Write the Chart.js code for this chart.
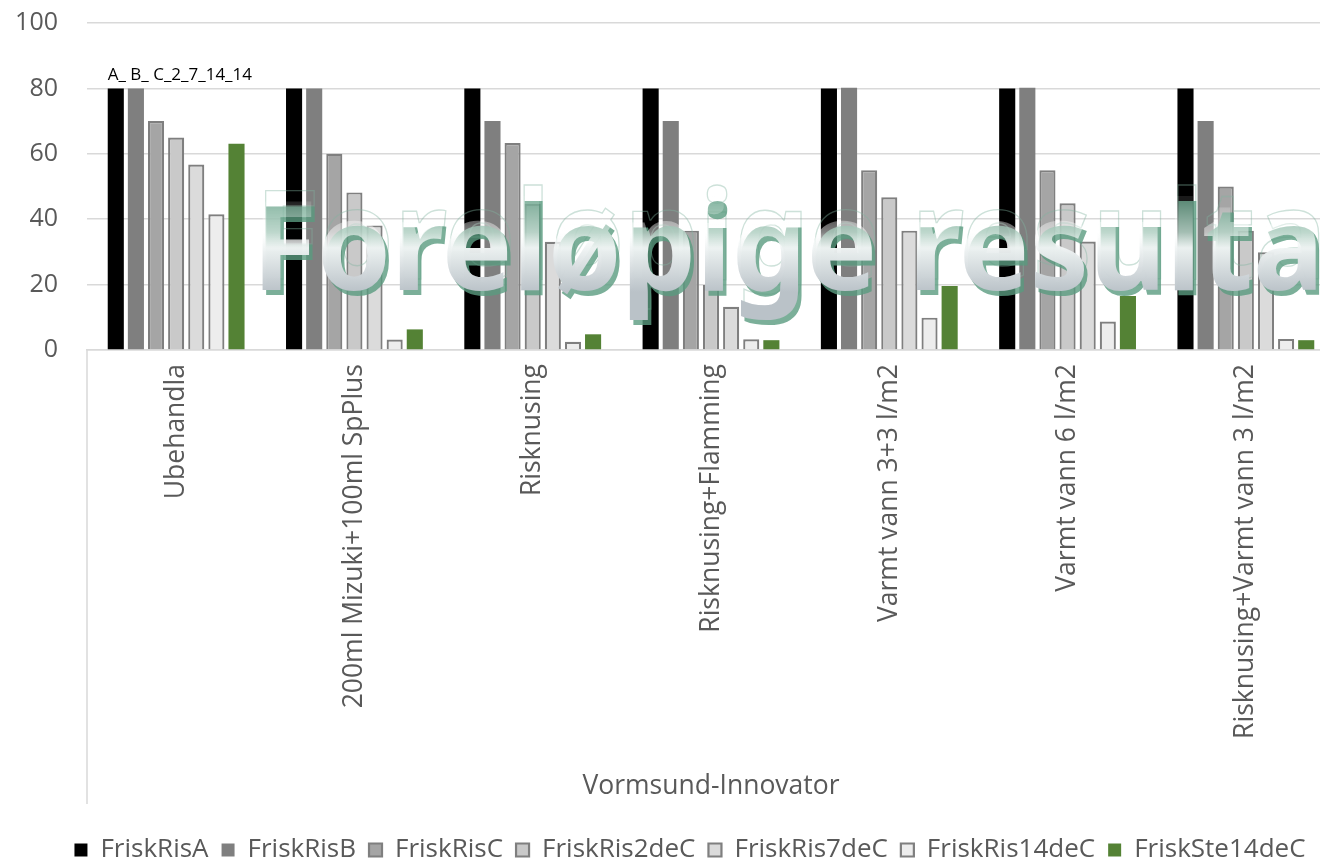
<!DOCTYPE html>
<html><head><meta charset="utf-8">
<script src="https://cdn.jsdelivr.net/npm/chart.js@4.4.1/dist/chart.umd.min.js"></script>
<style>
html,body{margin:0;padding:0;overflow:hidden;background:#fff;width:1320px;height:861px}
#wrap{position:absolute;left:0;top:0;width:1380px;height:873px}
</style>
</head><body><div id="wrap"><canvas id="c" width="1380" height="873"></canvas></div>
<script>
const categories = ['Ubehandla','200ml Mizuki+100ml SpPlus','Risknusing','Risknusing+Flamming','Varmt vann 3+3 l/m2','Varmt vann 6 l/m2','Risknusing+Varmt vann 3 l/m2'];
const seriesNames = ['FriskRisA','FriskRisB','FriskRisC','FriskRis2deC','FriskRis7deC','FriskRis14deC','FriskSte14deC'];
const friskRisA     = [80, 80, 80, 80, 80, 80, 80];
const friskRisB     = [80, 80, 70, 70, 80.2, 80.2, 70];
const friskRisC     = [70, 60, 63.3, 36.5, 55, 55, 50];
const friskRis2deC  = [65, 48.2, 44.7, 19.9, 46.7, 44.9, 36.5];
const friskRis7deC  = [56.7, 38.1, 33.1, 13.2, 36.5, 33.2, 29.9];
const friskRis14deC = [41.5, 3.2, 2.5, 3.3, 9.9, 8.7, 3.4];
const friskSte14deC = [63.1, 6.3, 4.8, 3.0, 19.6, 16.5, 3.0];
const yTicks = [0, 20, 40, 60, 80, 100];
const xAxisTitle = 'Vormsund-Innovator';
const annotationText = 'A_ B_ C_2_7_14_14';
const watermarkText = 'Foreløpige resultater';

const FONT = '"Open Sans", "Noto Sans", sans-serif';
const TXT = '#595959';
const GRID = '#d9d9d9';

const seriesValues = [friskRisA, friskRisB, friskRisC, friskRis2deC, friskRis7deC, friskRis14deC, friskSte14deC];
const fills   = ['#000000', '#7f7f7f', '#a5a5a5', '#c9c9c9', '#dbdbdb', '#ededed', '#548235'];
const borders = ['#000000', '#7f7f7f', '#7f7f7f', '#7f7f7f', '#7f7f7f', '#7f7f7f', '#548235'];
const bws     = [0, 0, 2.2, 2.2, 2.2, 2.2, 0];

const datasets = seriesNames.map((n, i) => ({
  label: n,
  data: seriesValues[i],
  backgroundColor: fills[i],
  borderColor: borders[i],
  borderWidth: bws[i],
  borderSkipped: 'start',
  categoryPercentage: 0.79,
  barPercentage: 0.8,
  yAxisID: 'y'
}));

const extras = {
  id: 'extras',
  afterDatasetsDraw(chart) {
    const ctx = chart.ctx;
    const ca = chart.chartArea;
    // watermark
    ctx.save();
    ctx.font = 'bold 123px "Noto Sans", "Open Sans", sans-serif';
    const w = ctx.measureText('Foreløpige resulta').width;
    const sx = 1072 / w;
    const x0 = ca.left + 165;
    const yb = ca.top + 267;
    ctx.translate(x0, yb);
    ctx.scale(sx, 1);
    ctx.textBaseline = 'alphabetic';
    ctx.lineWidth = 1.3;
    ctx.strokeStyle = 'rgba(130,180,160,0.4)';
    ctx.strokeText(watermarkText, 3 / sx, -11);
    ctx.fillStyle = 'rgba(90,155,128,0.8)';
    ctx.fillText(watermarkText, 3.5 / sx, 4.5);
    const g = ctx.createLinearGradient(0, -90, 0, 2);
    g.addColorStop(0, 'rgba(255,255,255,0.1)');
    g.addColorStop(0.35, 'rgba(255,255,255,0.5)');
    g.addColorStop(0.52, 'rgba(240,244,244,0.97)');
    g.addColorStop(1, 'rgba(186,194,200,1)');
    ctx.fillStyle = g;
    ctx.fillText(watermarkText, 0, 0);
    ctx.restore();

    // annotation
    const b = chart.getDatasetMeta(0).data[0];
    ctx.save();
    ctx.font = '17px ' + FONT;
    ctx.fillStyle = '#000';
    ctx.textBaseline = 'alphabetic';
    ctx.fillText(annotationText, b.x - b.width / 2, chart.scales.y.getPixelForValue(80) - 8);
    ctx.restore();
  },
  afterDraw(chart) {
    const ctx = chart.ctx;
    const xs = chart.scales.x;
    ctx.save();
    ctx.strokeStyle = GRID;
    ctx.lineWidth = 1.5;
    ctx.beginPath();
    ctx.moveTo(xs.left, xs.top);
    ctx.lineTo(xs.left, xs.bottom - 20);
    ctx.stroke();
    ctx.restore();
  }
};

new Chart(document.getElementById('c'), {
  type: 'bar',
  data: { labels: categories, datasets },
  plugins: [extras],
  options: {
    responsive: false,
    animation: false,
    devicePixelRatio: 1,
    layout: { padding: { top: 23, left: 0, right: 0, bottom: 0 } },
    plugins: {
      legend: {
        position: 'bottom',
        labels: { boxWidth: 13, boxHeight: 13, padding: 13, color: TXT, font: { family: FONT, size: 26 } }
      },
      tooltip: { enabled: false }
    },
    scales: {
      x: {
        ticks: { maxRotation: 90, minRotation: 90, autoSkip: false, padding: 14, color: TXT, font: { family: FONT, size: 26.5 } },
        grid: { display: false, drawTicks: false },
        border: { display: true, color: GRID, width: 1.5 },
        title: { display: true, text: xAxisTitle, color: TXT, font: { family: FONT, size: 26.5 }, padding: { top: 0, bottom: 22 } },
        afterFit(s) { s.height = 474; }
      },
      y: {
        min: 0, max: 100,
        afterBuildTicks(s) { s.ticks = yTicks.map(v => ({ value: v })); },
        ticks: { padding: 0, color: TXT, font: { family: FONT, size: 25 } },
        grid: { color: GRID, lineWidth: 1.5, drawTicks: true, tickLength: 29, tickColor: 'rgba(0,0,0,0)' },
        border: { display: false },
        afterFit(s) { s.width = 87; }
      },
      y2: {
        position: 'right',
        min: 0, max: 100,
        ticks: { display: false },
        grid: { display: false, drawTicks: false },
        border: { display: false },
        afterFit(s) { s.width = 45; }
      }
    }
  }
});
</script>
</body></html>
